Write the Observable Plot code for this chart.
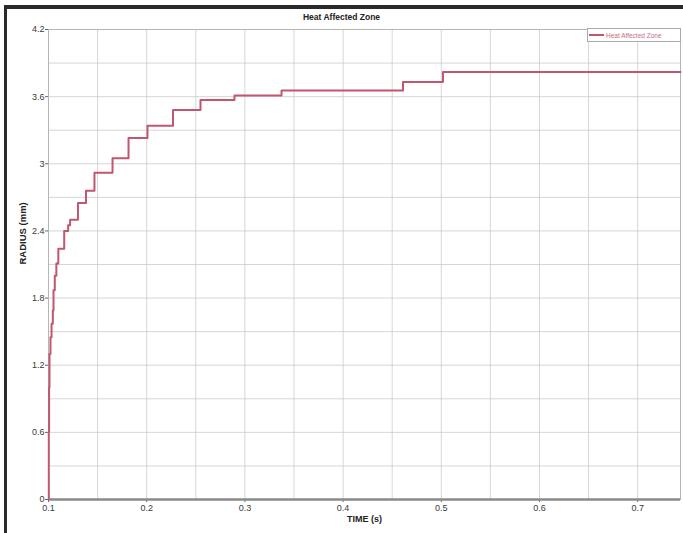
<!DOCTYPE html>
<html>
<head>
<meta charset="utf-8">
<script src="https://cdn.jsdelivr.net/npm/d3@7"></script>
<script src="https://cdn.jsdelivr.net/npm/@observablehq/plot@0.6"></script>
<style>
  body { margin: 0; background: #fff; }
  #wrap { position: relative; width: 683px; height: 533px; overflow: hidden; font-family: "Liberation Sans", Arial, sans-serif; }
  #frame { position: absolute; left: 4px; top: 5px; right: -10px; bottom: -10px; border-left: 3px solid #2a2a2a; border-top: 4px solid #2a2a2a; }
  #chart { position: absolute; left: 0; top: 0; }
  #legend { position: absolute; left: 587px; top: 28px; width: 92px; height: 12px; border: 1px solid #aaa; background: #fff; display: flex; align-items: center; font-size: 6.5px; color: #c86a84; white-space: nowrap; overflow: hidden; }
  #legend .sw { width: 15px; height: 2px; background: #c05670; margin: 0 2px 0 1px; flex: none; }
</style>
</head>
<body>
<div id="wrap">
  <div id="chart"></div>
  <div id="frame"></div>
  <div id="legend"><span class="sw"></span><span>Heat Affected Zone</span></div>
</div>
<script>
// Time (s) at which each step starts, and the radius (mm) held from there
const time = [0.1000, 0.1003, 0.1006, 0.1010, 0.1020, 0.1031, 0.1044, 0.1051, 0.1064, 0.1080,
              0.1100, 0.1160, 0.1200, 0.1220, 0.1300, 0.1382, 0.1468, 0.1652, 0.1815, 0.2008,
              0.2268, 0.2548, 0.2894, 0.3373, 0.4610, 0.5017, 0.7436];
const radius = [0.00, 0.60, 1.00, 1.30, 1.45, 1.57, 1.69, 1.87, 2.00, 2.11,
                2.24, 2.40, 2.45, 2.50, 2.65, 2.76, 2.92, 3.05, 3.23, 3.34,
                3.48, 3.57, 3.61, 3.655, 3.73, 3.82, 3.82];

const xTicks = [0.1, 0.2, 0.3, 0.4, 0.5, 0.6, 0.7];
const xTickLabels = ["0.1", "0.2", "0.3", "0.4", "0.5", "0.6", "0.7"];
const xGrid = [0.1, 0.15, 0.2, 0.25, 0.3, 0.35, 0.4, 0.45, 0.5, 0.55, 0.6, 0.65, 0.7];
const yTicks = [0, 0.6, 1.2, 1.8, 2.4, 3.0, 3.6, 4.2];
const yTickLabels = ["0", "0.6", "1.2", "1.8", "2.4", "3", "3.6", "4.2"];
const yGrid = [0, 0.3, 0.6, 0.9, 1.2, 1.5, 1.8, 2.1, 2.4, 2.7, 3.0, 3.3, 3.6, 3.9, 4.2];

const title = "Heat Affected Zone";
const xLabel = "TIME (s)";
const yLabel = "RADIUS (mm)";

const data = time.map((t, i) => ({t, r: radius[i]}));

const chart = Plot.plot({
  width: 683,
  height: 533,
  marginLeft: 48,
  marginRight: 3,
  marginTop: 29,
  marginBottom: 34,
  style: {fontFamily: "'Liberation Sans', Arial, sans-serif", fontSize: "9px", color: "#3a3a3a", background: "transparent", overflow: "visible"},
  x: {domain: [0.1, 0.7436], label: null},
  y: {domain: [0, 4.2], label: null},
  marks: [
    Plot.gridX(xGrid, {stroke: "#c4c4c4", strokeOpacity: 0.7}),
    Plot.gridY(yGrid, {stroke: "#c4c4c4", strokeOpacity: 0.7}),
    Plot.frame({stroke: "#b5b5b5"}),
    Plot.axisX(xTicks, {tickSize: 3, tickPadding: 2, tickFormat: (d, i) => xTickLabels[i], stroke: "#666"}),
    Plot.axisY(yTicks, {tickSize: 3, tickPadding: 1, tickFormat: (d, i) => yTickLabels[i], stroke: "#666"}),
    Plot.ruleY([0], {stroke: "#8a8a8a", strokeWidth: 2.5}),
    Plot.line(data, {x: "t", y: "r", curve: "step-after", stroke: "#c05670", strokeWidth: 2}),
    Plot.text([title], {frameAnchor: "top", dx: -23, dy: -16, fontWeight: "bold", fontSize: 8.5, fill: "#222"}),
    Plot.text([xLabel], {frameAnchor: "bottom", dy: 22, fontWeight: "bold", fontSize: 9, fill: "#222"}),
    Plot.text([yLabel], {frameAnchor: "left", dx: -26, rotate: -90, fontWeight: "bold", fontSize: 9.5, fill: "#222"})
  ]
});
document.getElementById("chart").appendChild(chart);
</script>
</body>
</html>
